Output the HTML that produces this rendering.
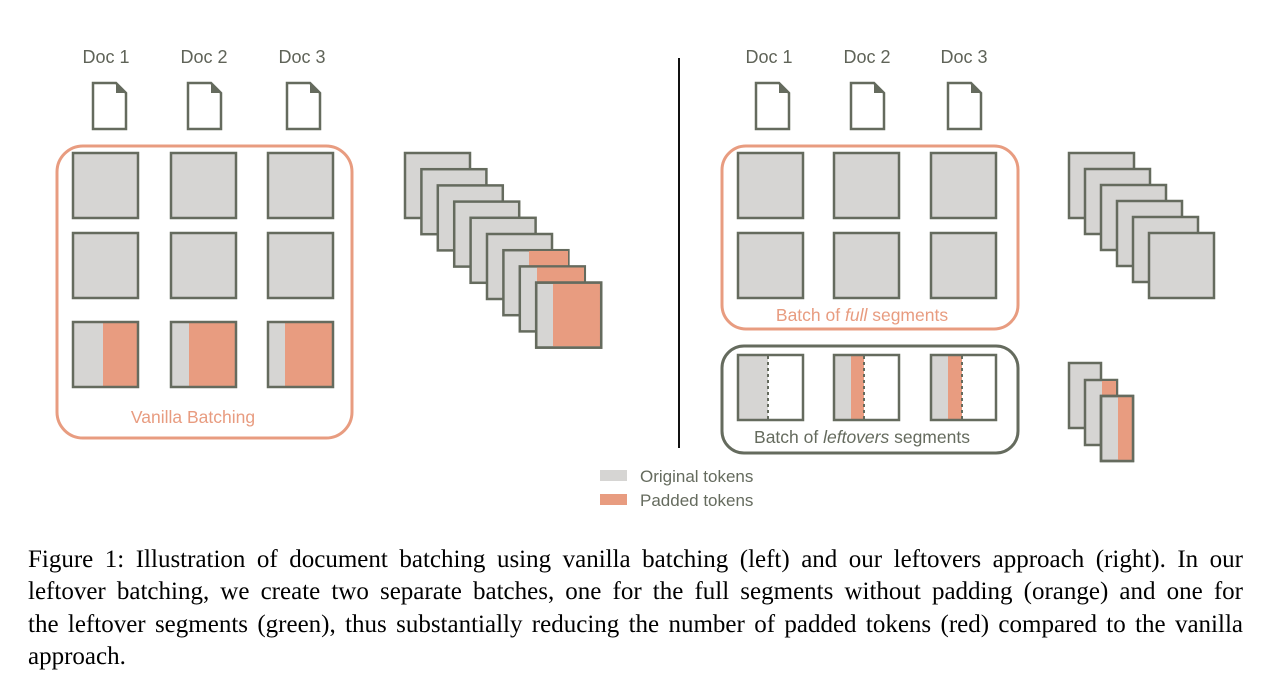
<!DOCTYPE html>
<html><head><meta charset="utf-8"><style>
html,body{margin:0;padding:0;background:#fff;}
body{width:1267px;height:692px;position:relative;overflow:hidden;}
svg{position:absolute;left:0;top:0;}
.cap{position:absolute;left:28px;width:1215px;font-family:"Liberation Serif",serif;font-size:25px;color:#000;line-height:30px;}
.j{text-align:justify;text-align-last:justify;white-space:normal;}
</style></head><body>
<svg width="1267" height="692" viewBox="0 0 1267 692" font-family="Liberation Sans, sans-serif">
<defs>
<g id="doc"><path d="M0,0 H23 L33,10 V46 H0 Z" fill="#fff" stroke="#656b5e" stroke-width="2.5"/><path d="M23,0 V10 H33 Z" fill="#656b5e"/></g>
</defs>
<g fill="#5f6358" font-size="18" text-anchor="middle">
<text x="106" y="63">Doc 1</text><text x="204" y="63">Doc 2</text><text x="302" y="63">Doc 3</text>
<text x="769" y="63">Doc 1</text><text x="867" y="63">Doc 2</text><text x="964" y="63">Doc 3</text>
</g>
<use href="#doc" x="93" y="83"/><use href="#doc" x="188" y="83"/><use href="#doc" x="287" y="83"/>
<use href="#doc" x="756" y="83"/><use href="#doc" x="851" y="83"/><use href="#doc" x="948" y="83"/>
<g stroke="#656b5e" stroke-width="2.5">
<g fill="#d6d5d3">
<rect x="73" y="153" width="65" height="65"/><rect x="171" y="153" width="65" height="65"/><rect x="268" y="153" width="65" height="65"/>
<rect x="73" y="233" width="65" height="65"/><rect x="171" y="233" width="65" height="65"/><rect x="268" y="233" width="65" height="65"/>
</g>
</g>
<g>
<rect x="73" y="322" width="65" height="65" fill="#d6d5d3"/><rect x="103" y="322" width="35" height="65" fill="#e89c80"/>
<rect x="171" y="322" width="65" height="65" fill="#d6d5d3"/><rect x="189" y="322" width="47" height="65" fill="#e89c80"/>
<rect x="268" y="322" width="65" height="65" fill="#d6d5d3"/><rect x="285" y="322" width="48" height="65" fill="#e89c80"/>
<g fill="none" stroke="#656b5e" stroke-width="2.5"><rect x="73" y="322" width="65" height="65"/><rect x="171" y="322" width="65" height="65"/><rect x="268" y="322" width="65" height="65"/></g>
</g>
<rect x="57" y="146" width="295" height="292" rx="26" fill="none" stroke="#e89c80" stroke-width="3"/>
<text x="193" y="423" fill="#e89c80" font-size="17.5" text-anchor="middle">Vanilla Batching</text>
<g stroke="#656b5e" stroke-width="2.5">
<rect x="405" y="153" width="65" height="65" fill="#d6d5d3"/>
<rect x="421.4" y="169.2" width="65" height="65" fill="#d6d5d3"/>
<rect x="437.8" y="185.4" width="65" height="65" fill="#d6d5d3"/>
<rect x="454.2" y="201.6" width="65" height="65" fill="#d6d5d3"/>
<rect x="470.6" y="217.8" width="65" height="65" fill="#d6d5d3"/>
<rect x="487" y="234" width="65" height="65" fill="#d6d5d3"/>
<rect x="503.4" y="250.2" width="65" height="65" fill="#d6d5d3"/>
<rect x="529" y="251" width="39" height="63" fill="#e89c80" stroke="none"/>
<rect x="519.8" y="266.4" width="65" height="65" fill="#d6d5d3"/>
<rect x="537" y="267.5" width="47" height="63" fill="#e89c80" stroke="none"/>
<rect x="536.2" y="282.6" width="65" height="65" fill="#d6d5d3"/>
<rect x="553" y="283.8" width="47.5" height="62.5" fill="#e89c80" stroke="none"/>
<rect x="536.2" y="282.6" width="65" height="65" fill="none"/>
</g>
<line x1="679" y1="58" x2="679" y2="448" stroke="#111" stroke-width="2"/>
<g fill="#d6d5d3" stroke="#656b5e" stroke-width="2.5">
<rect x="738" y="153" width="65" height="65"/><rect x="834" y="153" width="65" height="65"/><rect x="931" y="153" width="65" height="65"/>
<rect x="738" y="233" width="65" height="65"/><rect x="834" y="233" width="65" height="65"/><rect x="931" y="233" width="65" height="65"/>
</g>
<rect x="722" y="146" width="296" height="183" rx="24" fill="none" stroke="#e89c80" stroke-width="3"/>
<text x="862" y="321" fill="#e89c80" font-size="17.5" text-anchor="middle">Batch of <tspan font-style="italic">full</tspan> segments</text>
<g>
<rect x="738" y="355" width="65" height="65" fill="#fff"/><rect x="738" y="355" width="30" height="65" fill="#d6d5d3"/>
<rect x="834" y="355" width="65" height="65" fill="#fff"/><rect x="834" y="355" width="17" height="65" fill="#d6d5d3"/><rect x="851" y="355" width="13" height="65" fill="#e89c80"/>
<rect x="931" y="355" width="65" height="65" fill="#fff"/><rect x="931" y="355" width="17" height="65" fill="#d6d5d3"/><rect x="948" y="355" width="14" height="65" fill="#e89c80"/>
<g stroke="#656b5e" stroke-width="2" stroke-dasharray="3,3"><line x1="768" y1="356" x2="768" y2="420"/><line x1="864" y1="356" x2="864" y2="420"/><line x1="962" y1="356" x2="962" y2="420"/></g>
<g fill="none" stroke="#656b5e" stroke-width="2.5"><rect x="738" y="355" width="65" height="65"/><rect x="834" y="355" width="65" height="65"/><rect x="931" y="355" width="65" height="65"/></g>
</g>
<rect x="722" y="346" width="296" height="107" rx="22" fill="none" stroke="#656b5e" stroke-width="3"/>
<text x="862" y="443" fill="#656b5e" font-size="17.5" text-anchor="middle">Batch of <tspan font-style="italic">leftovers</tspan> segments</text>
<g fill="#d6d5d3" stroke="#656b5e" stroke-width="2.5">
<rect x="1069" y="153" width="65" height="65"/><rect x="1085" y="169" width="65" height="65"/><rect x="1101" y="185" width="65" height="65"/>
<rect x="1117" y="201" width="65" height="65"/><rect x="1133" y="217" width="65" height="65"/><rect x="1149" y="233" width="65" height="65"/>
</g>
<g stroke="#656b5e" stroke-width="2.5">
<rect x="1069" y="363" width="32" height="65" fill="#d6d5d3"/>
<rect x="1085" y="380" width="32" height="65" fill="#d6d5d3"/>
<rect x="1102" y="381" width="14" height="63" fill="#e89c80" stroke="none"/>
<rect x="1101" y="396" width="32" height="65" fill="#d6d5d3"/>
<rect x="1118" y="397" width="14" height="63" fill="#e89c80" stroke="none"/>
<rect x="1101" y="396" width="32" height="65" fill="none"/>
</g>
<rect x="600" y="470" width="27" height="11" fill="#d6d5d3"/>
<rect x="600" y="494" width="27" height="11" fill="#e89c80"/>
<text x="640" y="482" fill="#656b5e" font-size="17">Original tokens</text>
<text x="640" y="506" fill="#656b5e" font-size="17">Padded tokens</text>
</svg>
<div class="cap j" style="top:545px;">Figure 1: Illustration of document batching using vanilla batching (left) and our leftovers approach (right). In our</div>
<div class="cap j" style="top:577px;">leftover batching, we create two separate batches, one for the full segments without padding (orange) and one for</div>
<div class="cap j" style="top:610px;">the leftover segments (green), thus substantially reducing the number of padded tokens (red) compared to the vanilla</div>
<div class="cap" style="top:642px;">approach.</div>
</body></html>
